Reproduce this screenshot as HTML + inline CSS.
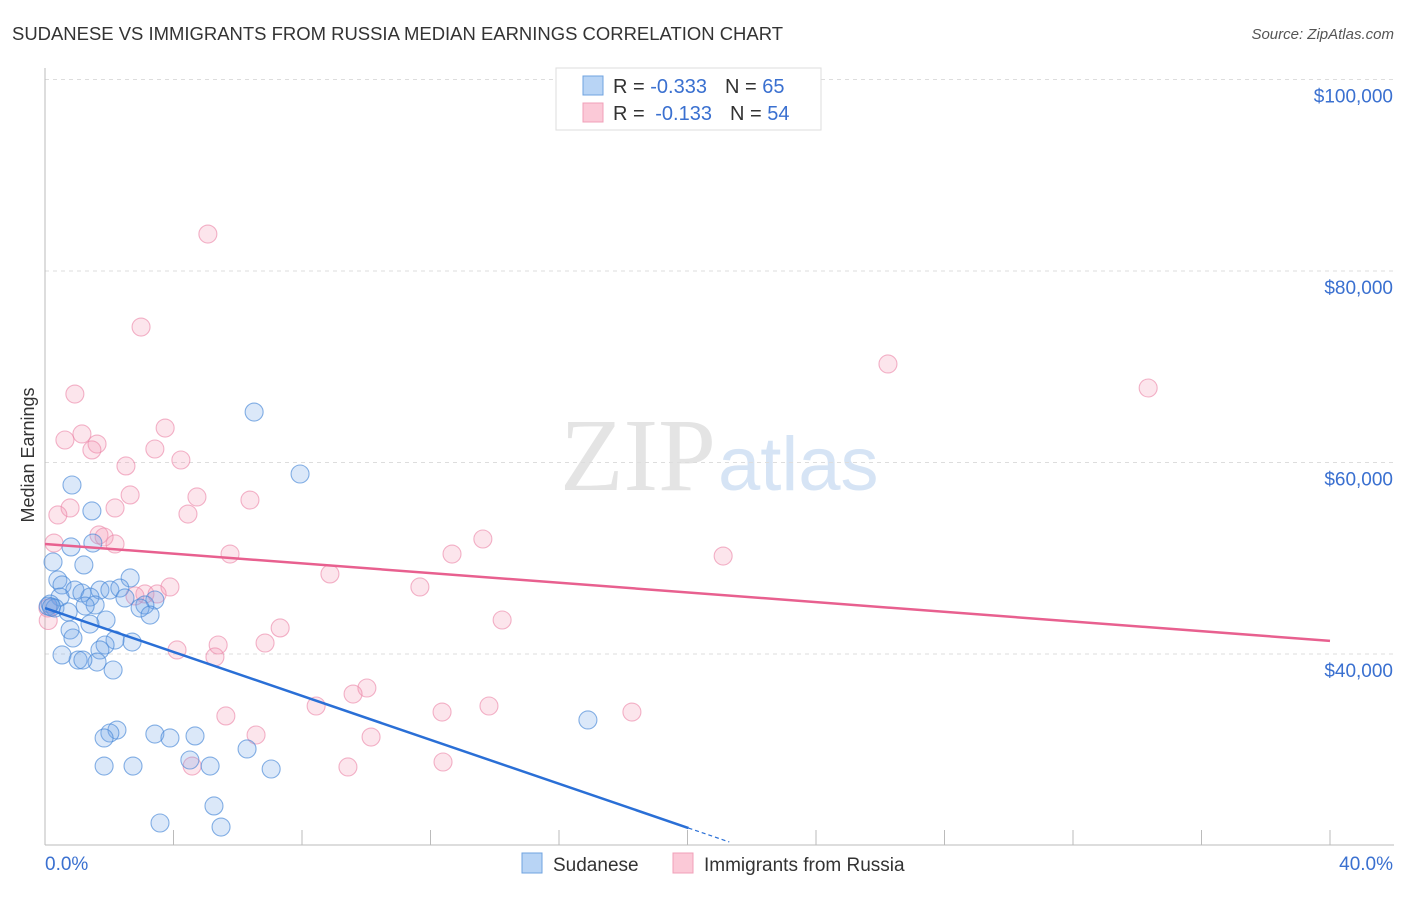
<!DOCTYPE html>
<html><head><meta charset="utf-8"><style>
body{margin:0;background:#fff;font-family:"Liberation Sans",sans-serif;}
</style></head><body>
<svg id="chart" width="1406" height="892" xmlns="http://www.w3.org/2000/svg">
<text x="12" y="40" font-size="18" fill="#333" textLength="771" lengthAdjust="spacingAndGlyphs">SUDANESE VS IMMIGRANTS FROM RUSSIA MEDIAN EARNINGS CORRELATION CHART</text>
<text x="1394" y="39" font-size="15" fill="#555" font-style="italic" text-anchor="end">Source: ZipAtlas.com</text>
<text x="716" y="490" font-size="104" fill="#e4e4e4" font-family="Liberation Serif,serif" text-anchor="end">ZIP</text>
<text x="718" y="490" font-size="76" fill="#d6e4f5">atlas</text>
<text transform="translate(34,455) rotate(-90)" font-size="18" fill="#333" text-anchor="middle">Median Earnings</text>
<g id="grid"></g><g id="marks"></g>
<g>
<rect x="556" y="68" width="265" height="62" fill="#fff" stroke="#ddd"/>
<rect x="583" y="76" width="20" height="19" fill="#b8d4f5" stroke="#6fa3e0"/>
<rect x="583" y="103" width="20" height="19" fill="#fbc9d7" stroke="#f0a0b8"/>
<text x="613" y="93" font-size="20" fill="#333">R = <tspan fill="#3a70d0">-0.333</tspan><tspan dx="18">N = </tspan><tspan fill="#3a70d0">65</tspan></text>
<text x="613" y="120" font-size="20" fill="#333">R = <tspan fill="#3a70d0" dx="5">-0.133</tspan><tspan dx="18">N = </tspan><tspan fill="#3a70d0">54</tspan></text>
</g>
<g>
<rect x="522" y="853" width="20" height="20" fill="#b8d4f5" stroke="#6fa3e0"/>
<text x="553" y="871" font-size="19" fill="#333">Sudanese</text>
<rect x="673" y="853" width="20" height="20" fill="#fbc9d7" stroke="#f0a0b8"/>
<text x="704" y="871" font-size="19" fill="#333">Immigrants from Russia</text>
</g>
</svg>
<script>
const yTicks=[40000,60000,80000,100000];
const yTickLabels=["$40,000","$60,000","$80,000","$100,000"];
const xLabels=["0.0%","40.0%"];
const blueX=[6.51,7.94,0.84,1.46,1.49,0.81,0.25,1.21,2.65,0.40,0.53,0.93,1.71,2.02,2.33,1.15,1.40,0.47,2.49,3.42,3.11,1.56,1.25,0.16,0.31,0.72,2.96,3.27,1.90,1.40,0.78,0.87,2.18,2.71,1.87,1.71,0.53,1.03,1.62,2.12,1.18,2.24,2.02,1.84,3.42,3.89,4.67,6.29,1.84,2.74,4.51,5.14,7.04,5.26,3.58,5.48,16.90,0.1,0.2];
const blueY=[65.27,58.80,57.65,54.94,51.59,51.18,49.61,49.30,47.94,47.73,47.21,46.68,46.68,46.68,46.89,46.37,45.95,45.95,45.85,45.64,45.12,45.12,45.01,45.22,44.80,44.39,44.80,44.07,43.55,43.13,42.51,41.67,41.46,41.25,40.94,40.42,39.90,39.37,39.16,38.33,39.37,32.06,31.75,31.23,31.64,31.23,31.44,30.08,28.30,28.30,28.93,28.30,27.99,24.13,22.35,21.93,33.11,45.0,44.9];
const pinkX=[5.07,2.99,26.24,34.34,0.93,3.74,1.15,0.62,1.62,1.46,3.42,4.23,2.52,2.65,4.73,6.38,0.78,2.18,0.40,4.45,1.68,1.84,2.18,0.28,13.63,12.67,5.76,21.11,8.87,11.67,3.89,3.11,3.49,2.80,0.09,14.23,7.32,5.39,6.85,4.11,5.29,10.02,9.59,8.44,13.82,12.36,18.27,5.63,6.57,10.15,4.58,12.39,9.43,0.1];
const pinkY=[83.86,74.15,70.29,67.78,67.15,63.60,62.98,62.35,61.93,61.31,61.41,60.26,59.64,56.61,56.40,56.08,55.25,55.25,54.52,54.62,52.43,52.22,51.49,51.59,52.01,50.44,50.44,50.23,48.36,47.00,47.00,46.27,46.27,46.06,44.80,43.55,42.72,40.94,41.15,40.42,39.69,36.45,35.82,34.57,34.57,33.94,33.94,33.53,31.54,31.33,28.30,28.72,28.20,43.5];
const blueTrend=[44.80,-1.147];
const pinkTrend=[51.49,-0.253];
const X=v=>45+v/40*1285;
const Y=v=>654-(v-40)*191.5/20;
const NS="http://www.w3.org/2000/svg";
const grid=document.getElementById('grid'),marks=document.getElementById('marks');
function mk(tag,attrs,parent){const e=document.createElementNS(NS,tag);for(const k in attrs)e.setAttribute(k,attrs[k]);parent.appendChild(e);return e;}
yTicks.forEach((t,i)=>{const y=Y(t/1000);
const l=mk('line',{x1:45,x2:1394,y1:y,y2:y,stroke:'#ddd','stroke-dasharray':'4,4'},grid);


const tx=mk('text',{x:1393,y:y+23,'font-size':19,fill:'#3a70d0','text-anchor':'end'},grid);
tx.textContent=yTickLabels[i];

});
mk('line',{x1:45,x2:45,y1:68,y2:845,stroke:'#bbb'},grid);
mk('line',{x1:45,x2:1394,y1:845,y2:845,stroke:'#bbb'},grid);
for(let i=0;i<=10;i++){const x=X(i*4);const t=mk('line',{x1:x,x2:x,y1:830,y2:845,stroke:'#bbb'},grid);

}
const xl0=mk('text',{x:45,y:870,'font-size':19,fill:'#3a70d0'},grid);xl0.textContent=xLabels[0];


const xl1=mk('text',{x:1393,y:870,'font-size':19,fill:'#3a70d0','text-anchor':'end'},grid);xl1.textContent=xLabels[1];


pinkX.forEach((v,i)=>{const c=mk('circle',{cx:X(v),cy:Y(pinkY[i]),r:9,fill:'rgba(244,150,180,0.25)',stroke:'rgba(235,130,165,0.6)','stroke-width':1.1},marks);

});
blueX.forEach((v,i)=>{const c=mk('circle',{cx:X(v),cy:Y(blueY[i]),r:9,fill:'rgba(110,165,230,0.25)',stroke:'rgba(70,135,215,0.65)','stroke-width':1.1},marks);

});
const pl=mk('line',{x1:X(0),y1:Y(pinkTrend[0]),x2:X(40),y2:Y(pinkTrend[0]+pinkTrend[1]*40),stroke:'#e8608f','stroke-width':2.5},marks);


const bl=mk('line',{x1:X(0),y1:Y(blueTrend[0]),x2:X(20.03),y2:Y(blueTrend[0]+blueTrend[1]*20.03),stroke:'#2a6fd6','stroke-width':2.5},marks);


const bd=mk('line',{x1:X(20.03),y1:Y(blueTrend[0]+blueTrend[1]*20.03),x2:X(21.3),y2:Y(blueTrend[0]+blueTrend[1]*21.3),stroke:'#2a6fd6','stroke-width':1.2,'stroke-dasharray':'4,3'},marks);


</script>
</body></html>
